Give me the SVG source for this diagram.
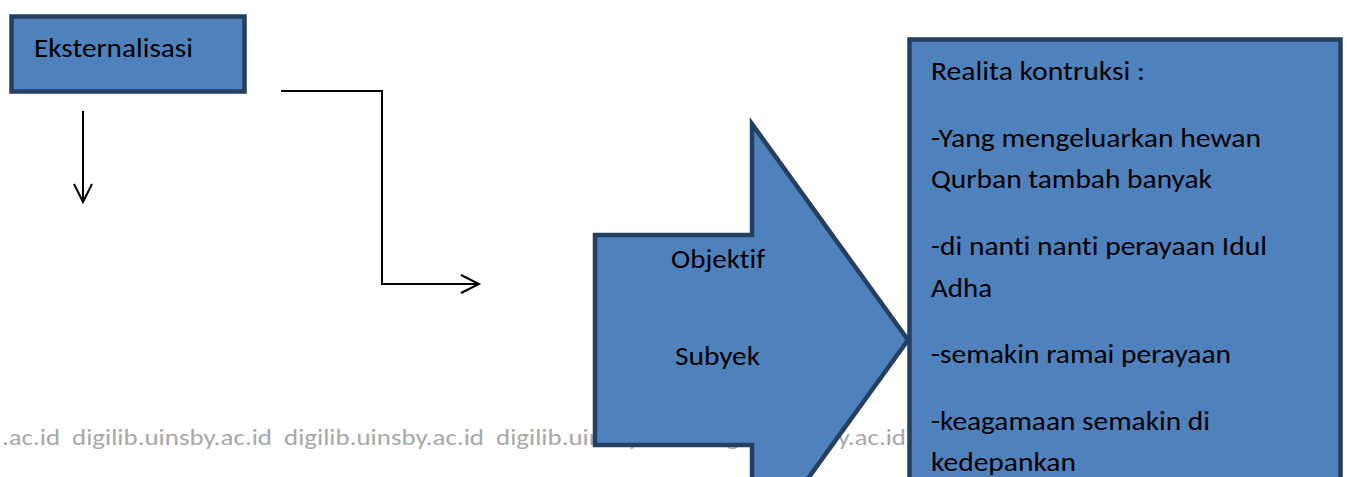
<svg xmlns="http://www.w3.org/2000/svg" width="1347" height="477" viewBox="0 0 1347 477">
<defs>
<style>
.shape{fill:#4F81BD;stroke:#243F60;stroke-width:4.5;stroke-linejoin:miter}
.t{font-family:Carlito,Lato,"Open Sans",sans-serif;font-size:26px;fill:#000;font-variant-ligatures:none}
.wm{font-family:Carlito,Lato,"Open Sans",sans-serif;font-size:22px;fill:#a8a8a8;font-variant-ligatures:none}
.ln{fill:none;stroke:#000;stroke-width:2}
</style>
<marker id="open" markerWidth="22" markerHeight="22" refX="19" refY="10" orient="auto" markerUnits="userSpaceOnUse">
<path d="M1,1 L19,10 L1,19" fill="none" stroke="#000" stroke-width="2"/>
</marker>
</defs>
<rect width="1347" height="477" fill="#fff"/>
<g id="watermark">
<text class="wm" x="2" y="445" textLength="58" lengthAdjust="spacingAndGlyphs">.ac.id</text>
<text class="wm" x="72" y="445" textLength="200" lengthAdjust="spacingAndGlyphs">digilib.uinsby.ac.id</text>
<text class="wm" x="284" y="445" textLength="200" lengthAdjust="spacingAndGlyphs">digilib.uinsby.ac.id</text>
<text class="wm" x="496" y="445" textLength="200" lengthAdjust="spacingAndGlyphs">digilib.uinsby.ac.id</text>
<text class="wm" x="706" y="445" textLength="200" lengthAdjust="spacingAndGlyphs">digilib.uinsby.ac.id</text>
</g>
<g id="connectors">
<line class="ln" x1="83" y1="111" x2="83" y2="202" marker-end="url(#open)"/>
<polyline class="ln" points="281,91 382,91 382,284 479,284" marker-end="url(#open)"/>
</g>
<g id="eksternalisasi">
<rect class="shape" x="11.5" y="16.5" width="233" height="75"/>
<text class="t" x="34" y="57" textLength="159" lengthAdjust="spacingAndGlyphs">Eksternalisasi</text>
</g>
<g id="objektif-subyek">
<polygon class="shape" points="595,235 752,235 752,124 908,340 752,556 752,445 595,445"/>
<text class="t" x="671" y="268" textLength="94" lengthAdjust="spacingAndGlyphs">Objektif</text>
<text class="t" x="675" y="365" textLength="85" lengthAdjust="spacingAndGlyphs">Subyek</text>
</g>
<g id="realita">
<rect class="shape" x="909.5" y="39.5" width="431" height="470"/>
<text class="t" x="931" y="80" textLength="214" lengthAdjust="spacingAndGlyphs">Realita kontruksi :</text>
<text class="t" x="931" y="147" textLength="330" lengthAdjust="spacingAndGlyphs">-Yang mengeluarkan hewan</text>
<text class="t" x="931" y="188" textLength="281" lengthAdjust="spacingAndGlyphs">Qurban tambah banyak</text>
<text class="t" x="931" y="255" textLength="336" lengthAdjust="spacingAndGlyphs">-di nanti nanti perayaan Idul</text>
<text class="t" x="931" y="297" textLength="61" lengthAdjust="spacingAndGlyphs">Adha</text>
<text class="t" x="931" y="363" textLength="300" lengthAdjust="spacingAndGlyphs">-semakin ramai perayaan</text>
<text class="t" x="931" y="430" textLength="279" lengthAdjust="spacingAndGlyphs">-keagamaan semakin di</text>
<text class="t" x="931" y="471" textLength="145" lengthAdjust="spacingAndGlyphs">kedepankan</text>
</g>
</svg>
